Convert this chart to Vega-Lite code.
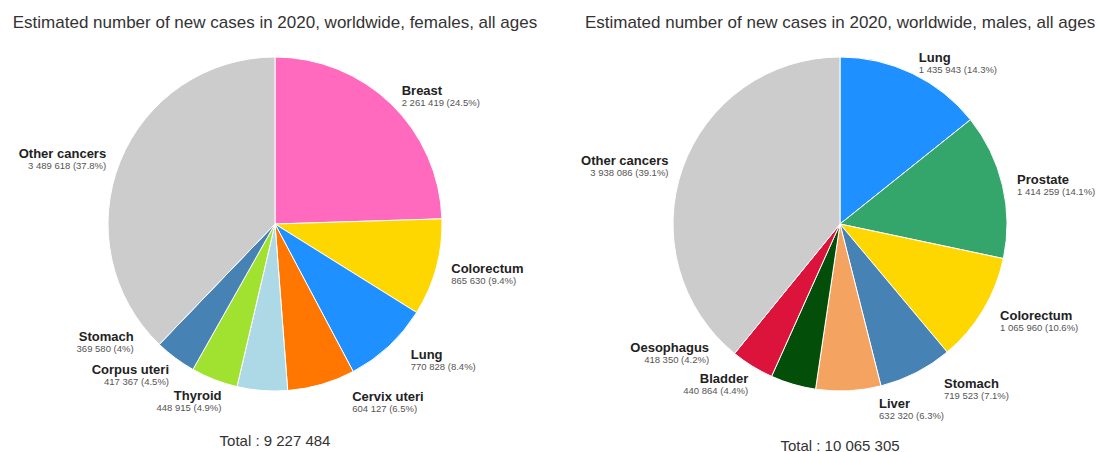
{
  "$schema": "https://vega.github.io/schema/vega-lite/v6.json",
  "padding": {"left": 0, "top": 14, "right": 0, "bottom": 0},
  "bounds": "flush",
  "spacing": 30,
  "config": {"font": "Liberation Sans", "view": {"stroke": null}},
  "resolve": {"scale": {"theta": "independent"}},
  "hconcat": [
    {
      "width": 550,
      "height": 364,
      "title": {"text": "Estimated number of new cases in 2020, worldwide, females, all ages", "anchor": "middle", "fontSize": 17, "fontWeight": "normal", "color": "#333333", "offset": 10},
      "layer": [
        {
          "data": {"values": [
            {"name": "Breast", "v": 2261419, "label": "2 261 419 (24.5%)"},
            {"name": "Colorectum", "v": 865630, "label": "865 630 (9.4%)"},
            {"name": "Lung", "v": 770828, "label": "770 828 (8.4%)"},
            {"name": "Cervix uteri", "v": 604127, "label": "604 127 (6.5%)"},
            {"name": "Thyroid", "v": 448915, "label": "448 915 (4.9%)"},
            {"name": "Corpus uteri", "v": 417367, "label": "417 367 (4.5%)"},
            {"name": "Stomach", "v": 369580, "label": "369 580 (4%)"},
            {"name": "Other cancers", "v": 3489618, "label": "3 489 618 (37.8%)"}
          ]},
          "transform": [{"window": [{"op": "row_number", "as": "idx"}]}],
          "encoding": {
            "theta": {"field": "v", "type": "quantitative", "stack": true},
            "order": {"field": "idx", "type": "quantitative"}
          },
          "layer": [
            {
              "mark": {"type": "arc", "outerRadius": 167, "stroke": "#ffffff", "strokeWidth": 1},
              "encoding": {
                "color": {"field": "name", "type": "nominal", "legend": null,
                  "scale": {"domain": ["Breast","Colorectum","Lung","Cervix uteri","Thyroid","Corpus uteri","Stomach","Other cancers","Prostate","Liver","Bladder","Oesophagus"],
                            "range": ["#FF69BE","#FFD700","#1E90FF","#FF7700","#ADD8E6","#A0E22F","#4682B4","#CCCCCC","#35A66B","#F4A460","#034F0A","#DC143C"]}}
              }
            },
            {
              "mark": {"type": "text", "radius": 182,
                "align": {"expr": "datum.v_start + datum.v_end > 9227484 ? 'right' : 'left'"},
                "dx": {"expr": "datum.v_start + datum.v_end > 9227484 ? 182 * (sin((datum.v_start + datum.v_end) / 9227484 * PI + (0.25 * min(1, 2 * max(0, -cos((datum.v_start + datum.v_end) / 9227484 * PI))) - 0.6 * max(0, -cos((datum.v_start + datum.v_end) / 9227484 * PI) - 0.95))) - sin((datum.v_start + datum.v_end) / 9227484 * PI)) : 30 * pow(max(0, -cos((datum.v_start + datum.v_end) / 9227484 * PI)), 3)"},
                "dy": {"expr": "(datum.v_start + datum.v_end > 9227484 ? 182 * (cos((datum.v_start + datum.v_end) / 9227484 * PI) - cos((datum.v_start + datum.v_end) / 9227484 * PI + (0.25 * min(1, 2 * max(0, -cos((datum.v_start + datum.v_end) / 9227484 * PI))) - 0.6 * max(0, -cos((datum.v_start + datum.v_end) / 9227484 * PI) - 0.95)))) : 0) - 2"},
                "baseline": "middle", "fontSize": 13, "fontWeight": "bold", "color": "#222222"},
              "encoding": {"text": {"field": "name"}}
            },
            {
              "mark": {"type": "text", "radius": 182,
                "align": {"expr": "datum.v_start + datum.v_end > 9227484 ? 'right' : 'left'"},
                "dx": {"expr": "datum.v_start + datum.v_end > 9227484 ? 182 * (sin((datum.v_start + datum.v_end) / 9227484 * PI + (0.25 * min(1, 2 * max(0, -cos((datum.v_start + datum.v_end) / 9227484 * PI))) - 0.6 * max(0, -cos((datum.v_start + datum.v_end) / 9227484 * PI) - 0.95))) - sin((datum.v_start + datum.v_end) / 9227484 * PI)) : 30 * pow(max(0, -cos((datum.v_start + datum.v_end) / 9227484 * PI)), 3)"},
                "dy": {"expr": "(datum.v_start + datum.v_end > 9227484 ? 182 * (cos((datum.v_start + datum.v_end) / 9227484 * PI) - cos((datum.v_start + datum.v_end) / 9227484 * PI + (0.25 * min(1, 2 * max(0, -cos((datum.v_start + datum.v_end) / 9227484 * PI))) - 0.6 * max(0, -cos((datum.v_start + datum.v_end) / 9227484 * PI) - 0.95)))) : 0) + 10"},
                "baseline": "middle", "fontSize": 9.5, "color": "#555555"},
              "encoding": {"text": {"field": "label"}}
            }
          ]
        },
        {
          "data": {"values": [{"t": "Total : 9 227 484"}]},
          "mark": {"type": "text", "dy": 217, "align": "center", "baseline": "middle", "fontSize": 15, "color": "#333333"},
          "encoding": {"text": {"field": "t"}}
        }
      ]
    },
    {
      "width": 520,
      "height": 364,
      "title": {"text": "Estimated number of new cases in 2020, worldwide, males, all ages", "anchor": "middle", "fontSize": 17, "fontWeight": "normal", "color": "#333333", "offset": 10},
      "layer": [
        {
          "data": {"values": [
            {"name": "Lung", "v": 1435943, "label": "1 435 943 (14.3%)"},
            {"name": "Prostate", "v": 1414259, "label": "1 414 259 (14.1%)"},
            {"name": "Colorectum", "v": 1065960, "label": "1 065 960 (10.6%)"},
            {"name": "Stomach", "v": 719523, "label": "719 523 (7.1%)"},
            {"name": "Liver", "v": 632320, "label": "632 320 (6.3%)"},
            {"name": "Bladder", "v": 440864, "label": "440 864 (4.4%)"},
            {"name": "Oesophagus", "v": 418350, "label": "418 350 (4.2%)"},
            {"name": "Other cancers", "v": 3938086, "label": "3 938 086 (39.1%)"}
          ]},
          "transform": [{"window": [{"op": "row_number", "as": "idx"}]}],
          "encoding": {
            "theta": {"field": "v", "type": "quantitative", "stack": true},
            "order": {"field": "idx", "type": "quantitative"}
          },
          "layer": [
            {
              "mark": {"type": "arc", "outerRadius": 167, "stroke": "#ffffff", "strokeWidth": 1},
              "encoding": {
                "color": {"field": "name", "type": "nominal", "legend": null}
              }
            },
            {
              "mark": {"type": "text", "radius": 182,
                "align": {"expr": "datum.v_start + datum.v_end > 10065305 ? 'right' : 'left'"},
                "dx": {"expr": "datum.v_start + datum.v_end > 10065305 ? 182 * (sin((datum.v_start + datum.v_end) / 10065305 * PI + (0.25 * min(1, 2 * max(0, -cos((datum.v_start + datum.v_end) / 10065305 * PI))) - 0.6 * max(0, -cos((datum.v_start + datum.v_end) / 10065305 * PI) - 0.95))) - sin((datum.v_start + datum.v_end) / 10065305 * PI)) : 30 * pow(max(0, -cos((datum.v_start + datum.v_end) / 10065305 * PI)), 3)"},
                "dy": {"expr": "(datum.v_start + datum.v_end > 10065305 ? 182 * (cos((datum.v_start + datum.v_end) / 10065305 * PI) - cos((datum.v_start + datum.v_end) / 10065305 * PI + (0.25 * min(1, 2 * max(0, -cos((datum.v_start + datum.v_end) / 10065305 * PI))) - 0.6 * max(0, -cos((datum.v_start + datum.v_end) / 10065305 * PI) - 0.95)))) : 0) - 2"},
                "baseline": "middle", "fontSize": 13, "fontWeight": "bold", "color": "#222222"},
              "encoding": {"text": {"field": "name"}}
            },
            {
              "mark": {"type": "text", "radius": 182,
                "align": {"expr": "datum.v_start + datum.v_end > 10065305 ? 'right' : 'left'"},
                "dx": {"expr": "datum.v_start + datum.v_end > 10065305 ? 182 * (sin((datum.v_start + datum.v_end) / 10065305 * PI + (0.25 * min(1, 2 * max(0, -cos((datum.v_start + datum.v_end) / 10065305 * PI))) - 0.6 * max(0, -cos((datum.v_start + datum.v_end) / 10065305 * PI) - 0.95))) - sin((datum.v_start + datum.v_end) / 10065305 * PI)) : 30 * pow(max(0, -cos((datum.v_start + datum.v_end) / 10065305 * PI)), 3)"},
                "dy": {"expr": "(datum.v_start + datum.v_end > 10065305 ? 182 * (cos((datum.v_start + datum.v_end) / 10065305 * PI) - cos((datum.v_start + datum.v_end) / 10065305 * PI + (0.25 * min(1, 2 * max(0, -cos((datum.v_start + datum.v_end) / 10065305 * PI))) - 0.6 * max(0, -cos((datum.v_start + datum.v_end) / 10065305 * PI) - 0.95)))) : 0) + 10"},
                "baseline": "middle", "fontSize": 9.5, "color": "#555555"},
              "encoding": {"text": {"field": "label"}}
            }
          ]
        },
        {
          "data": {"values": [{"t": "Total : 10 065 305"}]},
          "mark": {"type": "text", "dy": 222, "align": "center", "baseline": "middle", "fontSize": 15, "color": "#333333"},
          "encoding": {"text": {"field": "t"}}
        }
      ]
    }
  ]
}
